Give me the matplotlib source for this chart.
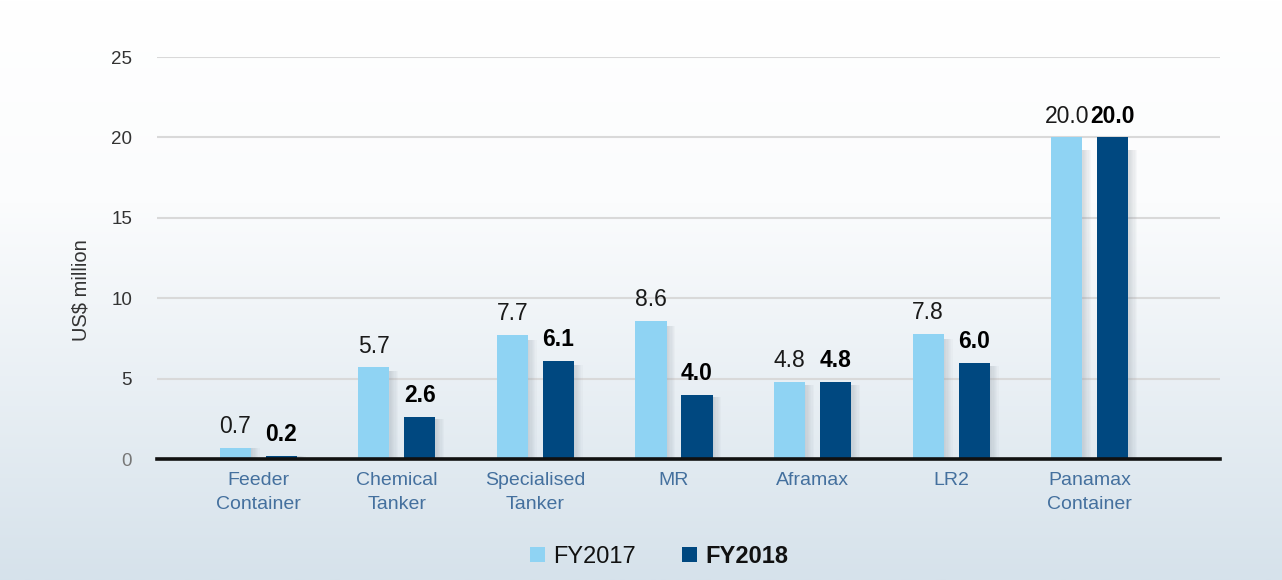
import numpy as np
import matplotlib
matplotlib.use("Agg")
import matplotlib.pyplot as plt
from matplotlib.patches import Rectangle, Patch
from matplotlib.colors import LinearSegmentedColormap

categories = ["Feeder\nContainer", "Chemical\nTanker", "Specialised\nTanker", "MR",
              "Aframax", "LR2", "Panamax\nContainer"]
fy2017 = [0.7, 5.7, 7.7, 8.6, 4.8, 7.8, 20.0]
fy2018 = [0.2, 2.6, 6.1, 4.0, 4.8, 6.0, 20.0]
series_names = ["FY2017", "FY2018"]
y_ticks = [0, 5, 10, 15, 20, 25]

c_light = "#8fd3f3"
c_dark = "#004880"

plt.rcParams['font.family'] = ['Liberation Sans', 'DejaVu Sans']

fig = plt.figure(figsize=(12.82, 5.80), dpi=100)

# background gradient
bg = fig.add_axes([0, 0, 1, 1], zorder=-10)
grad = np.linspace(0, 1, 256).reshape(-1, 1)
cmap = LinearSegmentedColormap.from_list("bg", [(0, "#ffffff"), (0.35, "#fbfcfd"), (1.0, "#d6e2eb")])
bg.imshow(grad, aspect="auto", cmap=cmap, extent=[0, 1, 0, 1], origin="upper")
bg.set_axis_off()

ax = fig.add_axes([0.1225, 0.2086, 0.8292, 0.6931])
ax.patch.set_alpha(0)

x = np.arange(len(categories))
w = 0.225
off = 0.166

# soft shadows on right side of bars
for xs, vals in ((x - off, fy2017), (x + off, fy2018)):
    for xi, v in zip(xs, vals):
        for k in range(7):
            ax.add_patch(Rectangle((xi + w / 2, 0), 0.009 * (k + 1), v * 0.96,
                                   facecolor="#8e99a3", alpha=0.05, lw=0, zorder=2))

b1 = ax.bar(x - off, fy2017, w, color=c_light, zorder=3)
b2 = ax.bar(x + off, fy2018, w, color=c_dark, zorder=3)

for xi, v in zip(x - off, fy2017):
    ax.annotate(f"{v:.1f}", (xi, v), xytext=(0, 7), textcoords="offset points",
                ha="center", va="bottom", fontsize=16.5, color="#1a1a1a")
for xi, v in zip(x + off, fy2018):
    ax.annotate(f"{v:.1f}", (xi, v), xytext=(0, 7), textcoords="offset points",
                ha="center", va="bottom", fontsize=16.5, color="#000000", fontweight="bold")

ax.set_xlim(-0.73, 6.94)
ax.set_ylim(0, 25)
ax.set_yticks(y_ticks)
ax.set_yticklabels([str(t) for t in y_ticks], fontsize=13.5, color="#333333")
ax.get_yticklabels()[0].set_color("#777777")
ax.tick_params(axis="y", length=0, pad=18)
ax.set_xticks(x)
ax.set_xticklabels(categories, fontsize=14, color="#44709e", linespacing=1.55)
ax.tick_params(axis="x", length=0, pad=9)

for t in y_ticks[1:]:
    ax.axhline(t, color="#d9d9d9", lw=1.5, zorder=1)

for s in ["top", "right", "left"]:
    ax.spines[s].set_visible(False)
ax.spines["bottom"].set_linewidth(2.6)
ax.spines["bottom"].set_color("#111111")
ax.spines["bottom"].set_zorder(5)

ax.set_ylabel("US$ million", fontsize=14.5, color="#333333")
ax.yaxis.set_label_coords(-0.063, 0.42)

handles = [Patch(facecolor=c_light), Patch(facecolor=c_dark)]
leg = fig.legend(handles, series_names, loc="center", bbox_to_anchor=(0.514, 0.041),
                 ncol=2, frameon=False, fontsize=17, handlelength=0.62, handleheight=0.62,
                 handletextpad=0.35, columnspacing=1.97)
leg.get_texts()[1].set_fontweight("bold")
for t in leg.get_texts():
    t.set_color("#111111")

fig.savefig("out.png", dpi=100)
